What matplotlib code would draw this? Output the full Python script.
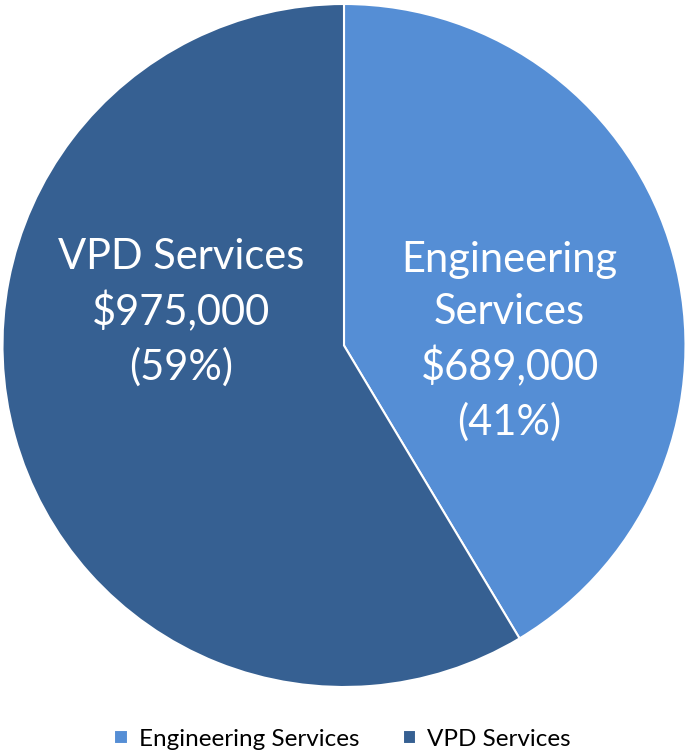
import matplotlib.pyplot as plt

# donnees
categories = ["Engineering Services", "VPD Services"]
valeurs = [689000, 975000]
couleurs = ["#558ED5", "#366092"]

plt.rcParams['font.family'] = ['Lato', 'DejaVu Sans']

fig = plt.figure(figsize=(6.85, 7.53), dpi=100)
ax = fig.add_axes([2.5 / 685, 66 / 753, 683 / 685, 683 / 753])

wedges, _ = ax.pie(valeurs, colors=couleurs, startangle=90, counterclock=False,
                   radius=1, wedgeprops=dict(edgecolor="white", linewidth=1.5))
ax.set_xlim(-1, 1)
ax.set_ylim(-1, 1)
ax.set_aspect("equal")

total = sum(valeurs)
# position des etiquettes (fraction du rayon)
pos_labels = [(0.485, 0.013), (-0.477, 0.098)]
for cat, v, (x, y) in zip(categories, valeurs, pos_labels):
    nom = cat.replace("Engineering ", "Engineering\n")
    txt = f"{nom}\n${v:,.0f}\n({round(100 * v / total)}%)"
    ax.text(x, y, txt, ha="center", va="center", color="white",
            fontsize=30, linespacing=1.45)

ax.legend(wedges, categories, loc="center", ncol=2, frameon=False, fontsize=17.5,
          handlelength=0.55, handleheight=0.55, handletextpad=0.45, columnspacing=1.8,
          bbox_to_anchor=(0.5, 14 / 753), bbox_transform=fig.transFigure)

fig.savefig("out.png", dpi=100)
